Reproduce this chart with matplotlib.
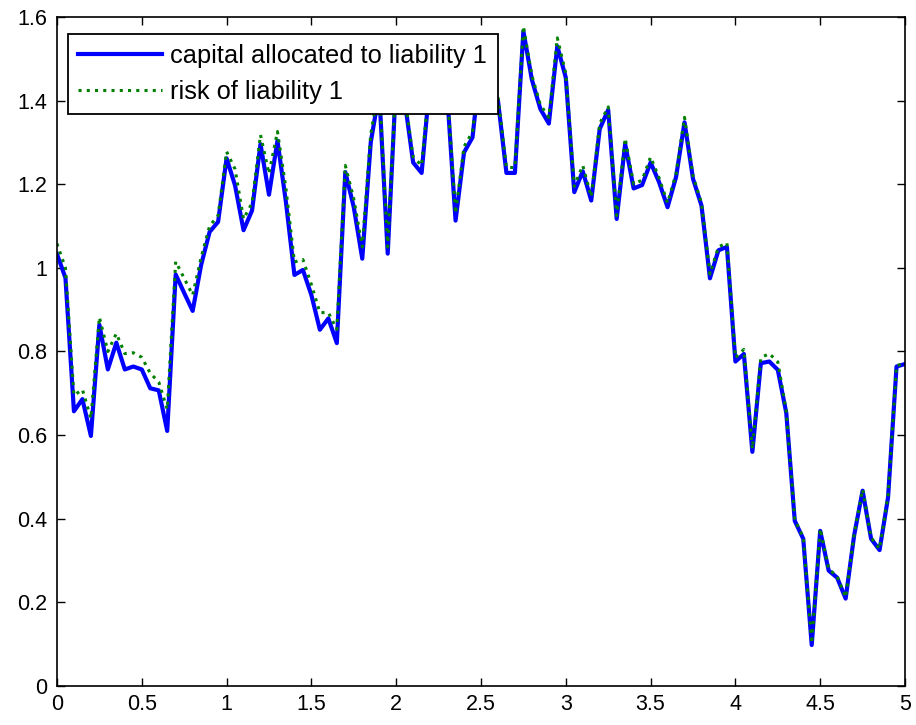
import numpy as np
import matplotlib
matplotlib.use('Agg')
import matplotlib.pyplot as plt

plt.rcParams['font.family'] = ['Liberation Sans', 'DejaVu Sans']

# 时间网格 0~5，步长 0.05
t = np.linspace(0, 5, 101)

# 分配给负债1的资本
capital = [1.033, 0.976, 0.657, 0.686, 0.598, 0.864, 0.757, 0.821, 0.757, 0.764,
           0.757, 0.712, 0.707, 0.610, 0.984, 0.940, 0.897, 1.007, 1.086, 1.110,
           1.262, 1.197, 1.090, 1.137, 1.296, 1.175, 1.304, 1.157, 0.983, 0.995,
           0.935, 0.852, 0.879, 0.820, 1.229, 1.145, 1.022, 1.300, 1.420, 1.034,
           1.450, 1.400, 1.252, 1.227, 1.450, 1.520, 1.420, 1.113, 1.276, 1.312,
           1.500, 1.450, 1.400, 1.227, 1.227, 1.566, 1.450, 1.380, 1.345, 1.530,
           1.455, 1.181, 1.231, 1.161, 1.332, 1.378, 1.117, 1.296, 1.190, 1.198,
           1.252, 1.205, 1.145, 1.217, 1.348, 1.213, 1.149, 0.975, 1.042, 1.050,
           0.776, 0.794, 0.560, 0.772, 0.776, 0.756, 0.653, 0.395, 0.352, 0.098,
           0.371, 0.276, 0.259, 0.209, 0.360, 0.467, 0.352, 0.325, 0.451, 0.764,
           0.770]

# 负债1的风险
risk = [1.058, 1.000, 0.695, 0.709, 0.640, 0.882, 0.800, 0.843, 0.795, 0.797,
        0.786, 0.748, 0.727, 0.662, 1.015, 0.975, 0.935, 1.025, 1.100, 1.125,
        1.278, 1.236, 1.117, 1.155, 1.318, 1.225, 1.326, 1.190, 1.014, 1.020,
        0.960, 0.893, 0.893, 0.853, 1.245, 1.165, 1.050, 1.320, 1.435, 1.050,
        1.460, 1.410, 1.265, 1.245, 1.460, 1.530, 1.430, 1.130, 1.290, 1.325,
        1.510, 1.460, 1.410, 1.240, 1.240, 1.578, 1.460, 1.390, 1.360, 1.550,
        1.465, 1.195, 1.245, 1.170, 1.345, 1.385, 1.125, 1.310, 1.200, 1.210,
        1.265, 1.215, 1.155, 1.225, 1.360, 1.220, 1.155, 0.985, 1.050, 1.060,
        0.785, 0.805, 0.567, 0.785, 0.795, 0.775, 0.657, 0.398, 0.355, 0.102,
        0.376, 0.280, 0.262, 0.212, 0.363, 0.470, 0.355, 0.328, 0.455, 0.766,
        0.772]

xticks = [0, 0.5, 1, 1.5, 2, 2.5, 3, 3.5, 4, 4.5, 5]
xlabels = ['0', '0.5', '1', '1.5', '2', '2.5', '3', '3.5', '4', '4.5', '5']
yticks = [0, 0.2, 0.4, 0.6, 0.8, 1.0, 1.2, 1.4, 1.6]
ylabels = ['0', '0.2', '0.4', '0.6', '0.8', '1', '1.2', '1.4', '1.6']

fig = plt.figure(figsize=(9.16, 7.25), dpi=100)
ax = fig.add_axes([0.0622, 0.0538, 0.9258, 0.9228])

ax.plot(t, capital, color='#0000ff', lw=3.0, label='capital allocated to liability 1')
ax.plot(t, risk, color='#008000', lw=2.2, linestyle=(0, (1, 1.7)),
        label='risk of liability 1')

ax.set_xlim(0, 5)
ax.set_ylim(0, 1.6)
ax.set_xticks(xticks)
ax.set_xticklabels(xlabels)
ax.set_yticks(yticks)
ax.set_yticklabels(ylabels)
ax.tick_params(direction='in', length=6, width=1, top=True, right=True,
               labelsize=15.5, colors='black')
ax.tick_params(axis='x', pad=6)
ax.tick_params(axis='y', pad=7)
for s in ax.spines.values():
    s.set_linewidth(1.2)

# 图例：白底黑框，盖住下面的曲线
leg = ax.legend(loc='upper left', bbox_to_anchor=(0.013, 0.9746), fontsize=18.3,
                frameon=True, fancybox=False, framealpha=1, edgecolor='black',
                handlelength=3.3, handletextpad=0.32, labelspacing=0.44,
                borderpad=0.41, borderaxespad=0)
leg.get_frame().set_linewidth(1.3)

plt.savefig('out.png', dpi=100)
